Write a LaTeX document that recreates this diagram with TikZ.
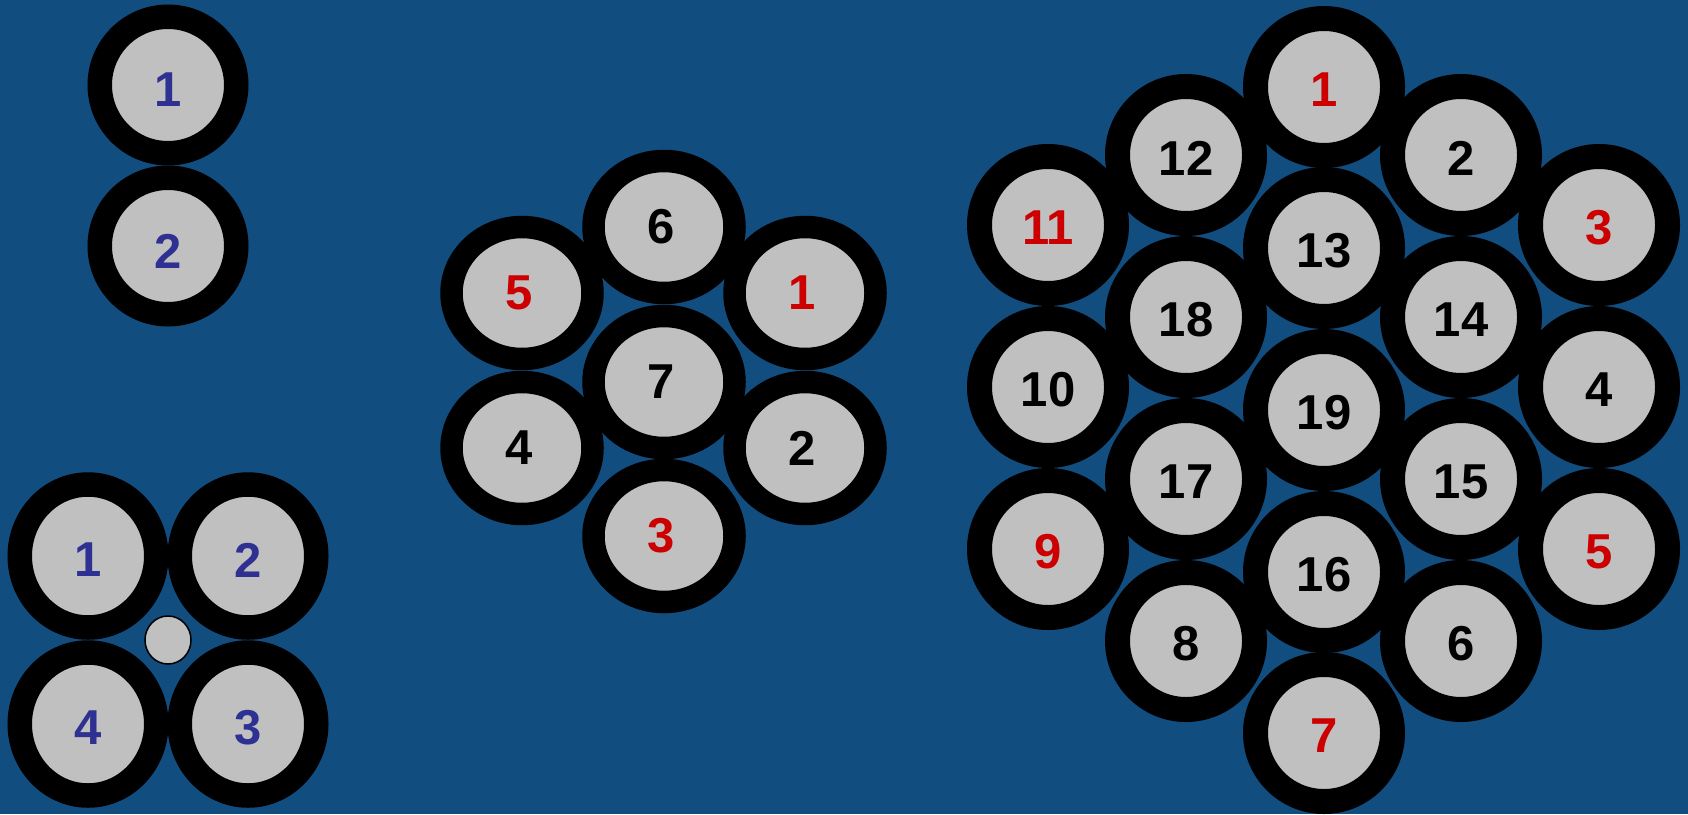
\documentclass[tikz,border=0pt]{standalone}
\usepackage{fontspec}
\setmainfont{Liberation Sans}
\usepackage{tikz}
\usetikzlibrary{
  positioning,
  shapes.geometric
}
\definecolor{CableBlue}{HTML}{124D80}
\definecolor{CoreGray}{HTML}{C0C0C0}
\definecolor{NumBlue}{HTML}{2E3192}
\definecolor{NumRed}{HTML}{CC0000}

\begin{document}
\begin{tikzpicture}[
    x=1pt, y=-1pt,
    every node/.style={font=\fontsize{49}{49}\selectfont\bfseries, inner sep=0pt, outer sep=0pt},
    wire/.style={circle, draw=black, fill=CoreGray, line width=25pt, minimum size=137pt},
    wireflat/.style={ellipse, draw=black, fill=CoreGray, line width=22.5pt,
      minimum width=141pt, minimum height=132pt},
    wiretall/.style={ellipse, draw=black, fill=CoreGray, line width=24.5pt,
      minimum width=136.5pt, minimum height=143pt},
    num/.style={text=#1}
  ]
    % background
    \useasboundingbox (0,0) rectangle (1688,814);
    \fill[CableBlue] (0,0) rectangle (1688,814);
    % two-core
    \foreach \y/\n in {85/1, 246/2}{
      \node[wire, line width=24.5pt, minimum size=136.5pt] (pair\n) at (168,\y) {};
      \node[num=NumBlue, yshift=-5pt] at (pair\n) {\n};
    }
    % four-core with filler
    \foreach \x/\y/\n in {88/556/1, 248/556/2, 248/724/3, 88/724/4}{
      \node[wiretall] (quad\n) at (\x,\y) {};
      \node[num=NumBlue, yshift=-4pt] at (quad\n) {\n};
    }
    \node[ellipse, draw=black, fill=CoreGray, line width=1.5pt,
      minimum width=46pt, minimum height=48pt] (filler) at (168,640) {};
    % seven-core
    \foreach \x/\y/\n/\c in {
      805/293/1/NumRed, 805/448/2/black, 664/536/3/NumRed,
      522/448/4/black, 522/293/5/NumRed, 664/227/6/black,
      664/382/7/black}{
      \node[wireflat] (hex\n) at (\x,\y) {};
      \node[num=\c, xshift=-3pt] at (hex\n) {\n};
    }
    % nineteen-core
    \foreach \x/\y/\n/\c in {
      1324/87/1/NumRed,   1461/155/2/black,  1599/225/3/NumRed,
      1599/387/4/black,   1599/549/5/NumRed, 1461/641/6/black,
      1324/733/7/NumRed,  1186/641/8/black,  1048/549/9/NumRed,
      1048/387/10/black,  1048/225/11/NumRed, 1186/155/12/black,
      1324/248/13/black,  1461/317/14/black, 1461/479/15/black,
      1324/572/16/black,  1186/479/17/black, 1186/317/18/black,
      1324/410/19/black}{
      \node[wire] (big\n) at (\x,\y) {};
      \node[num=\c, yshift=-3pt] at (big\n) {\n};
    }
\end{tikzpicture}
\end{document}
